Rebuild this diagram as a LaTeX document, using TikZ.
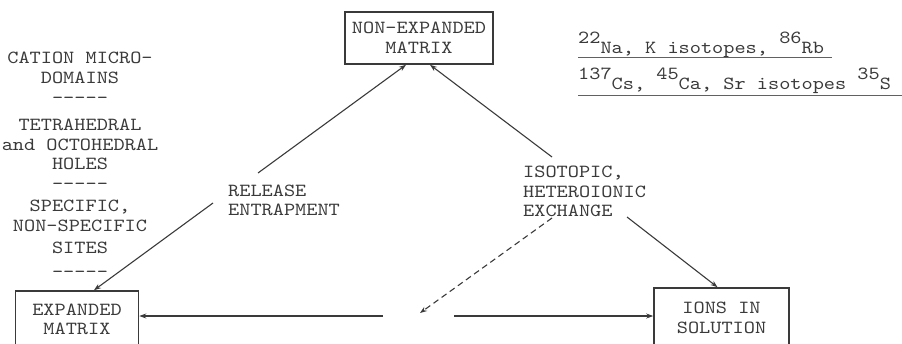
\documentclass[tikz,border=0pt]{standalone}
\usepackage{fontspec}
\newfontfamily\tw{lmmono10-regular.otf}[FakeStretch=1.15]
\usetikzlibrary{arrows.meta}
\definecolor{ink}{HTML}{3A3A3A}
% raised mass number, typed a half line up
\newcommand\massno[1]{\raisebox{10pt}{#1}}

\begin{document}
\begin{tikzpicture}[x=1pt,y=-1pt,
  txt/.style={font=\tw\fontsize{18.5}{19.5}\selectfont, text=ink, inner sep=0pt},
  boxed/.style={txt, draw=ink, line width=1.6pt, align=center},
  arr/.style={draw=ink, line width=1.1pt, -{Stealth[length=7pt,width=5pt]}},
  ul/.style={draw=ink!80, line width=1.6pt}]
\useasboundingbox (0,0) rectangle (902,343);
\clip (0,0) rectangle (902,343);

% the three states
\node[boxed, minimum width=148pt, minimum height=52pt] (neb) at (419,38) {NON-EXPANDED\\MATRIX};
\node[boxed, minimum width=123pt, minimum height=57pt] (eb) at (77,319.5) {EXPANDED\\MATRIX};
\node[boxed, minimum width=135pt, minimum height=60pt] (ions) at (721.5,318) {IONS IN\\SOLUTION};

% process labels
\node[txt, anchor=west, align=left] (rel) at (228,200.5) {RELEASE\\ENTRAPMENT};
\node[txt, anchor=west, align=left] (iso) at (523,191.5) {ISOTOPIC,\\HETEROIONIC\\EXCHANGE};

% sites list
\foreach \y/\t [count=\i] in {63.5/CATION MICRO-, 83.5/DOMAINS, 103/-----,
    130.5/TETRAHEDRAL, 150.5/and OCTOHEDRAL, 169.5/HOLES, 189/-----,
    211.5/{SPECIFIC,}, 231.5/NON-SPECIFIC, 253.5/SITES, 277/-----}
  \node[txt, anchor=base] (site\i) at (80,\y) {\t};

% isotopes
\node[txt, anchor=base west] (isoA) at (578,53) {\massno{22}Na, K isotopes, \massno{86}Rb};
\node[txt, anchor=base west] (isoB) at (578,89) {\massno{137}Cs, \massno{45}Ca, Sr isotopes \massno{35}S};
\draw[ul] ([yshift=-4.5pt]isoA.base west) -- ++(254,0);
\draw[ul] ([yshift=-6.5pt]isoB.base west) -- ++(326,0);

% connector end points
\coordinate (ra) at (258,173);
\coordinate (rb) at (213,203);
\coordinate (ia) at (552,157);
\coordinate (ib) at (627,217);
\coordinate (ic) at (552,218);
\coordinate (id) at (420,313);
\coordinate (hl) at (383,316);
\coordinate (hr) at (454,316);

\draw[arr] (ra) -- ([xshift=-13pt]neb.south);
\draw[arr] (rb) -- ([xshift=17pt]eb.north);
\draw[arr] (ia) -- ([xshift=11pt]neb.south);
\draw[arr] (ib) -- ([xshift=-4pt]ions.north);
\draw[arr, dash pattern=on 6pt off 4pt] (ic) -- (id);
\draw[arr] (hl) -- (hl -| eb.east);
\draw[arr] (hr) -- (hr -| ions.west);
\end{tikzpicture}
\end{document}
